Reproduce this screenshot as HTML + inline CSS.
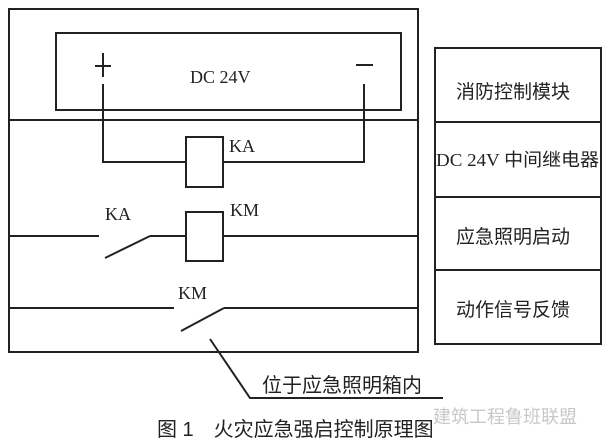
<!DOCTYPE html>
<html><head><meta charset="utf-8"><style>
html,body{margin:0;padding:0;background:#fff;}
svg{display:block}
.s{font-family:"Liberation Serif",serif;fill:#222}
.c{font-family:"Liberation Sans","Noto Sans CJK SC",sans-serif;fill:#222}
</style></head><body>
<svg width="610" height="447" viewBox="0 0 610 447" xmlns="http://www.w3.org/2000/svg">
<g fill="none" stroke="#222" stroke-width="2">
<rect x="9" y="9" width="409" height="343"/>
<rect x="56" y="33" width="345" height="77"/>
<line x1="9" y1="120" x2="418" y2="120"/>
<line x1="103" y1="53" x2="103" y2="77"/>
<line x1="95" y1="66" x2="111" y2="66"/>
<line x1="356" y1="65" x2="373" y2="65"/>
<polyline points="103,84 103,162 186,162"/>
<polyline points="223,162 364,162 364,84"/>
<rect x="186" y="137" width="37" height="50"/>
<line x1="9" y1="236" x2="99" y2="236"/>
<line x1="105" y1="258" x2="150" y2="236"/>
<line x1="150" y1="236" x2="186" y2="236"/>
<rect x="186" y="212" width="37" height="49"/>
<line x1="223" y1="236" x2="418" y2="236"/>
<line x1="9" y1="308" x2="174" y2="308"/>
<line x1="181" y1="331" x2="224" y2="308"/>
<line x1="224" y1="308" x2="418" y2="308"/>
<polyline points="210,339 250,398 443,398"/>
<rect x="435" y="48" width="166" height="296"/>
<line x1="435" y1="122" x2="601" y2="122"/>
<line x1="435" y1="197" x2="601" y2="197"/>
<line x1="435" y1="270" x2="601" y2="270"/>
</g>
<text class="s" x="190" y="83" font-size="18">DC 24V</text>
<text class="s" x="229" y="152" font-size="18">KA</text>
<text class="s" x="105" y="220" font-size="18">KA</text>
<text class="s" x="230" y="216" font-size="18">KM</text>
<text class="s" x="178" y="299" font-size="18">KM</text>
<text class="c" x="456" y="98" font-size="19">消防控制模块</text>
<text class="c" x="436" y="166" font-size="18" textLength="163" lengthAdjust="spacingAndGlyphs"><tspan font-family="Liberation Serif">DC 24V </tspan>中间继电器</text>
<text class="c" x="456" y="243" font-size="19">应急照明启动</text>
<text class="c" x="456" y="316" font-size="19">动作信号反馈</text>
<text class="c" x="262" y="392" font-size="20">位于应急照明箱内</text>
<text class="c" x="157" y="436" font-size="20">图 1　火灾应急强启控制原理图</text>
<text class="c" x="433" y="423" font-size="18" style="fill:#c8c8c8">建筑工程鲁班联盟</text>
</svg>
</body></html>
